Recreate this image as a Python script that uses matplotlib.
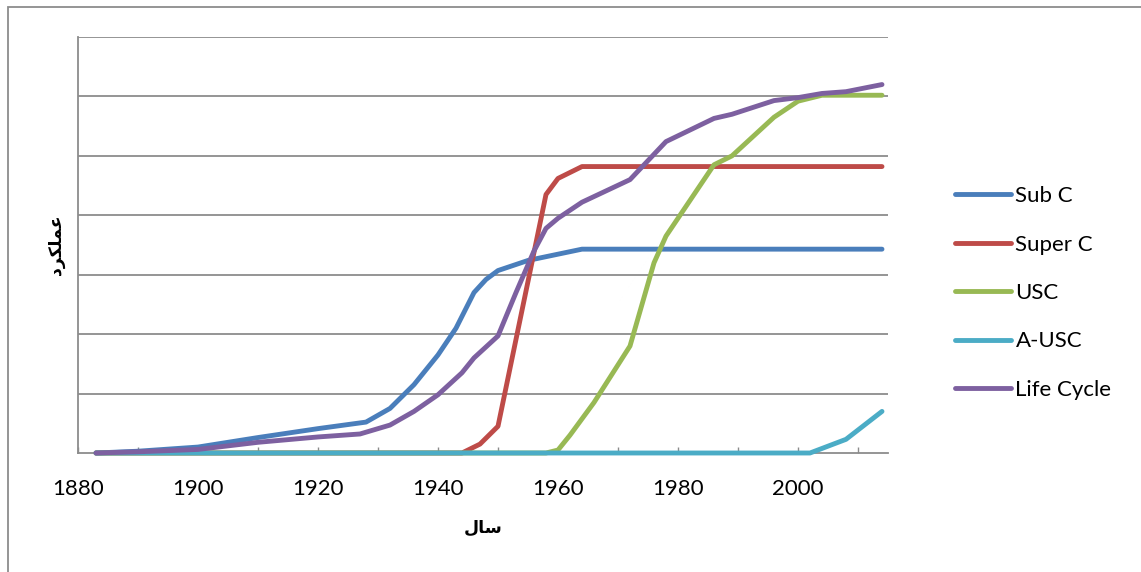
import matplotlib
matplotlib.use("Agg")
import matplotlib.pyplot as plt
from matplotlib.patches import Rectangle

# years and values of each technology curve
sub_c_years = [1883, 1890, 1900, 1910, 1920, 1928, 1932, 1936, 1940, 1943, 1946, 1948, 1950, 1955, 1964, 2014]
sub_c_vals = [0, 0.03, 0.1, 0.26, 0.41, 0.52, 0.75, 1.15, 1.65, 2.1, 2.7, 2.92, 3.07, 3.24, 3.43, 3.43]

super_c_years = [1883, 1944, 1947, 1950, 1958, 1960, 1964, 2014]
super_c_vals = [0, 0, 0.15, 0.45, 4.35, 4.62, 4.82, 4.82]

usc_years = [1883, 1958, 1960, 1962, 1966, 1972, 1976, 1978, 1980, 1986, 1989, 1996, 2000, 2004, 2014]
usc_vals = [0, 0, 0.05, 0.3, 0.85, 1.8, 3.2, 3.65, 3.95, 4.85, 5.0, 5.65, 5.92, 6.02, 6.02]

ausc_years = [1883, 2002, 2008, 2014]
ausc_vals = [0, 0, 0.23, 0.7]

life_years = [1883, 1890, 1900, 1910, 1920, 1927, 1932, 1936, 1940, 1944, 1946, 1950, 1953, 1956, 1958,
              1960, 1964, 1972, 1975, 1978, 1986, 1989, 1996, 2000, 2004, 2008, 2014]
life_vals = [0, 0.02, 0.06, 0.18, 0.27, 0.32, 0.47, 0.7, 0.98, 1.35, 1.6, 1.97, 2.7, 3.4, 3.78,
             3.95, 4.22, 4.6, 4.92, 5.24, 5.63, 5.7, 5.93, 5.98, 6.05, 6.08, 6.2]

labels = ["Sub C", "Super C", "USC", "A-USC", "Life Cycle"]
colors = ["#4A7EBB", "#BE4B48", "#98B954", "#4BACC6", "#7D60A0"]

tick_years = list(range(1880, 2011, 10))
tick_labels = [str(y) if y % 20 == 0 else "" for y in tick_years]

# Arabic labels written in shaped presentation forms (visual order)
x_title = "\ufedd\ufe8e\ufeb3"                    # سال
y_title = "\ufea9\ufeae\ufb91\ufee0\ufee4\ufecb"  # عملکرد

W, H = 1141, 572
fig = plt.figure(figsize=(W / 100, H / 100), dpi=100)
ax = fig.add_axes([78 / W, 1 - 453 / H, 810 / W, 416 / H])

series = [(sub_c_years, sub_c_vals), (super_c_years, super_c_vals), (usc_years, usc_vals),
          (ausc_years, ausc_vals), (life_years, life_vals)]
for (xs, ys), lab, col in zip(series, labels, colors):
    ax.plot(xs, ys, color=col, label=lab, lw=3.5, solid_capstyle="round",
            solid_joinstyle="round", clip_on=False, zorder=3)

ax.set_xlim(1880, 2015)
ax.set_ylim(0, 7)
ax.set_yticks(range(1, 8))
ax.set_yticklabels([])
ax.tick_params(axis="y", length=0)
ax.grid(axis="y", color="#8C8C8C", lw=1.3)
ax.set_axisbelow(True)

ax.set_xticks(tick_years)
ax.set_xticklabels(tick_labels, fontfamily="Lato", fontsize=16)
ax.tick_params(axis="x", direction="in", length=4, width=1, color="#8C8C8C", pad=19)

for side in ["top", "right"]:
    ax.spines[side].set_visible(False)
for side in ["left", "bottom"]:
    ax.spines[side].set_color("#8C8C8C")
    ax.spines[side].set_linewidth(1.3)

ax.set_xlabel(x_title, family="DejaVu Sans", fontweight="bold", fontsize=12.5, labelpad=14)
ax.set_ylabel(y_title, family="DejaVu Sans", fontweight="bold", fontsize=12.5, labelpad=6)

fig.legend(loc="center left", bbox_to_anchor=(955 / W, 1 - 293 / H), frameon=False,
           prop={"family": "Lato", "size": 16}, handlelength=2.5, handletextpad=0.22,
           labelspacing=1.28, borderpad=0, borderaxespad=0)

# chart area border
fig.patches.append(Rectangle((8 / W, -0.1), 1.2, 1.1 - 7 / H, transform=fig.transFigure,
                             fill=False, edgecolor="#8C8C8C", lw=1.3))

fig.savefig("out.png", dpi=100)
